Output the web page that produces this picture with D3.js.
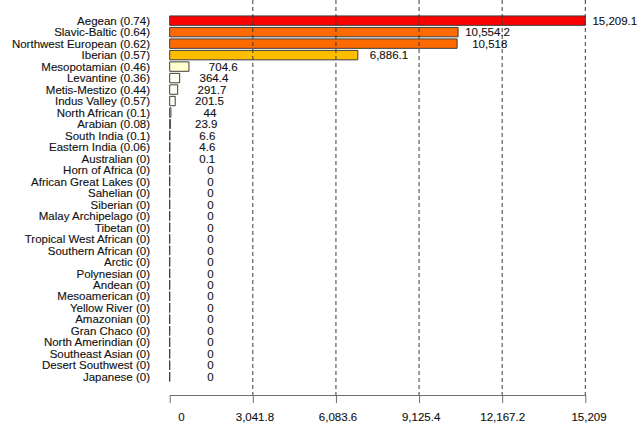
<!DOCTYPE html>
<html>
<head>
<meta charset="utf-8">
<script src="https://cdn.jsdelivr.net/npm/d3@7"></script>
<style>
  html, body { margin: 0; padding: 0; background: #ffffff; }
  svg { display: block; }
  text { font-family: "Liberation Sans", Arial, sans-serif; }
  .lbl { fill: #111; stroke: #111; stroke-width: 0.12px; }
</style>
</head>
<body>
<svg id="chart" width="637" height="428"></svg>
<script>
// Region names, their scores and the bar values, top to bottom
const regions = [
  "Aegean", "Slavic-Baltic", "Northwest European", "Iberian", "Mesopotamian",
  "Levantine", "Metis-Mestizo", "Indus Valley", "North African", "Arabian",
  "South India", "Eastern India", "Australian", "Horn of Africa", "African Great Lakes",
  "Sahelian", "Siberian", "Malay Archipelago", "Tibetan", "Tropical West African",
  "Southern African", "Arctic", "Polynesian", "Andean", "Mesoamerican",
  "Yellow River", "Amazonian", "Gran Chaco", "North Amerindian", "Southeast Asian",
  "Desert Southwest", "Japanese"
];
const scores = [
  0.74, 0.64, 0.62, 0.57, 0.46,
  0.36, 0.44, 0.57, 0.1, 0.08,
  0.1, 0.06, 0, 0, 0,
  0, 0, 0, 0, 0,
  0, 0, 0, 0, 0,
  0, 0, 0, 0, 0,
  0, 0
];
const values = [
  15209.1, 10554.2, 10518, 6886.1, 704.6,
  364.4, 291.7, 201.5, 44, 23.9,
  6.6, 4.6, 0.1, 0, 0,
  0, 0, 0, 0, 0,
  0, 0, 0, 0, 0,
  0, 0, 0, 0, 0,
  0, 0
];

// Axis ticks
const tickValues = [0, 3041.8, 6083.6, 9125.4, 12167.2, 15209];
const tickLabels = ["0", "3,041.8", "6,083.6", "9,125.4", "12,167.2", "15,209"];

// Fill per bar (heat palette, by rank)
const barFill = [
  "#ff0000", "#ff6a00", "#ff6a00", "#ffbd00", "#ffffd0",
  "#fffff0", "#fffff0", "#fffff0", "#fffff4", "#fffff4"
];

const rows = regions.map((r, i) => ({ region: r, score: scores[i], value: values[i], i }));

const svg = d3.select("#chart");
const axisY = 395;

const x = d3.scaleLinear()
  .domain([0, tickValues[tickValues.length - 1]])
  .range([169.7, 585.3]);

const y = d3.scaleBand()
  .domain(regions)
  .range([14.9, 382.5])
  .paddingInner(0.18)
  .paddingOuter(0.09);

const pad8 = s => s.padStart(8, " ");
const fmt = d3.format(",");

// Bars (drawn as paths so zero-width bars still show their outline)
svg.append("g")
  .selectAll("path")
  .data(rows)
  .join("path")
  .attr("d", d => {
    const x0 = x(0), x1 = x(d.value), y0 = y(d.region), h = y.bandwidth();
    return `M${x0},${y0}H${x1}V${y0 + h}H${x0}Z`;
  })
  .attr("fill", d => barFill[d.i] || "#ffffff")
  .attr("stroke", "#3d3d3d")
  .attr("stroke-width", 1);

// Dashed reference lines at each non-zero tick
svg.append("g")
  .selectAll("line")
  .data(tickValues.filter(v => v > 0))
  .join("line")
  .attr("x1", d => x(d)).attr("x2", d => x(d))
  .attr("y1", 0).attr("y2", axisY)
  .attr("stroke", "#3a3a3a")
  .attr("stroke-width", 1)
  .attr("stroke-dasharray", "4,3");

// Category labels
svg.append("g")
  .selectAll("text")
  .data(rows)
  .join("text")
  .attr("class", "lbl")
  .attr("x", 150)
  .attr("y", d => y(d.region) + y.bandwidth() / 2)
  .attr("dy", "0.36em")
  .attr("text-anchor", "end")
  .attr("font-size", "11.5px")
  .text(d => `${d.region} (${d.score})`);

// Value labels
svg.append("g")
  .selectAll("text")
  .data(rows)
  .join("text")
  .attr("class", "lbl")
  .attr("x", d => x(d.value) + 29.5)
  .attr("y", d => y(d.region) + y.bandwidth() / 2)
  .attr("dy", "0.36em")
  .attr("text-anchor", "middle")
  .attr("xml:space", "preserve")
  .style("white-space", "pre")
  .attr("font-size", "11.5px")
  .text(d => pad8(fmt(d.value)));

// Bottom axis
const axis = d3.axisBottom(x)
  .tickValues(tickValues)
  .tickFormat((d, i) => pad8(tickLabels[i]))
  .tickSize(8)
  .tickSizeOuter(0)
  .tickPadding(10);

const gAxis = svg.append("g")
  .attr("transform", `translate(0,${axisY})`)
  .call(axis);

gAxis.select(".domain").attr("stroke", "#6e6e6e");
gAxis.selectAll(".tick line").attr("stroke", "#6e6e6e");
gAxis.selectAll(".tick text")
  .attr("class", "lbl")
  .attr("xml:space", "preserve")
  .style("white-space", "pre")
  .attr("font-size", "11.5px")
  .attr("font-family", "\"Liberation Sans\", Arial, sans-serif");
</script>
</body>
</html>
